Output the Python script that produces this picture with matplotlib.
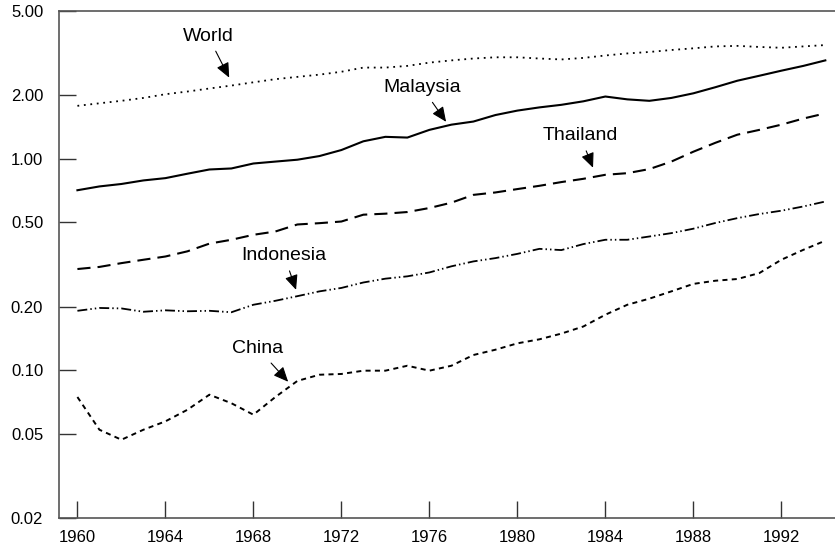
import numpy as np
import matplotlib
matplotlib.use('Agg')
import matplotlib.pyplot as plt
from matplotlib.ticker import FixedLocator, FixedFormatter, NullLocator

plt.rcParams['font.family'] = ['Liberation Sans', 'DejaVu Sans']

# Data (log scale)
years = list(range(1960, 1995))

world = [1.78, 1.83, 1.88, 1.94, 2.02, 2.08, 2.15, 2.22, 2.30, 2.38,
         2.44, 2.50, 2.58, 2.70, 2.70, 2.75, 2.85, 2.92, 2.98, 3.02,
         3.02, 2.98, 2.95, 3.00, 3.08, 3.15, 3.20, 3.27, 3.33, 3.40,
         3.42, 3.38, 3.35, 3.40, 3.45]

malaysia = [0.71, 0.74, 0.76, 0.79, 0.81, 0.85, 0.89, 0.90, 0.95, 0.97,
            0.99, 1.03, 1.10, 1.21, 1.27, 1.26, 1.37, 1.45, 1.50, 1.61,
            1.69, 1.75, 1.80, 1.87, 1.97, 1.91, 1.88, 1.94, 2.04, 2.18,
            2.34, 2.47, 2.61, 2.75, 2.92]

thailand = [0.301, 0.308, 0.321, 0.333, 0.345, 0.365, 0.397, 0.414, 0.437, 0.453,
            0.489, 0.496, 0.505, 0.544, 0.550, 0.560, 0.585, 0.620, 0.675, 0.693,
            0.719, 0.745, 0.776, 0.804, 0.840, 0.855, 0.894, 0.970, 1.08, 1.19,
            1.30, 1.37, 1.45, 1.55, 1.64]

indonesia = [0.191, 0.197, 0.196, 0.189, 0.192, 0.190, 0.191, 0.188, 0.204, 0.213,
             0.224, 0.236, 0.245, 0.260, 0.271, 0.278, 0.290, 0.310, 0.327, 0.339,
             0.355, 0.375, 0.370, 0.395, 0.414, 0.414, 0.429, 0.445, 0.467, 0.497,
             0.524, 0.548, 0.568, 0.595, 0.628]

china = [0.0747, 0.0523, 0.0469, 0.0523, 0.0573, 0.065, 0.0766, 0.0698, 0.0616, 0.0747,
         0.089, 0.0952, 0.096, 0.0995, 0.0995, 0.105, 0.0995, 0.105, 0.118, 0.125,
         0.134, 0.140, 0.149, 0.161, 0.183, 0.204, 0.218, 0.236, 0.256, 0.265,
         0.270, 0.288, 0.333, 0.371, 0.410]

y_ticks = [0.02, 0.05, 0.10, 0.20, 0.50, 1.00, 2.00, 5.00]
y_tick_labels = ['0.02', '0.05', '0.10', '0.20', '0.50', '1.00', '2.00', '5.00']
x_ticks = list(range(1960, 1995, 4))

fig = plt.figure(figsize=(8.35, 5.48), dpi=100)
ax = fig.add_axes([58.5 / 835, 1 - 518 / 548, 1 - 58.5 / 835, (518 - 11) / 548])

ax.plot(years, world, color='k', lw=1.3, linestyle=(0, (1, 2.6)))
ax.plot(years, malaysia, color='k', lw=1.5, linestyle='-')
ax.plot(years, thailand, color='k', lw=1.5, linestyle=(0, (6.3, 3.4)))
ax.plot(years, indonesia, color='k', lw=1.3,
        linestyle=(0, (5.5, 1.7, 0.8, 1.7, 0.8, 1.7)))
ax.plot(years, china, color='k', lw=1.4, linestyle=(0, (2.6, 2.2)))

ax.set_yscale('log')
ax.set_ylim(0.02, 5.0)
ax.set_xlim(1959.14, 1994.44)
ax.yaxis.set_major_locator(FixedLocator(y_ticks))
ax.yaxis.set_major_formatter(FixedFormatter(y_tick_labels))
ax.yaxis.set_minor_locator(NullLocator())
ax.set_xticks(x_ticks)
ax.set_xticklabels([str(x) for x in x_ticks])

ax.tick_params(axis='both', direction='in', length=12, width=1.0,
               labelsize=12, colors='#333333', labelcolor='black')
ax.tick_params(axis='y', pad=11)
ax.tick_params(axis='x', pad=9)

for side in ['left', 'bottom', 'top']:
    ax.spines[side].set_color('#555555')
    ax.spines[side].set_linewidth(1.2)
ax.spines['right'].set_visible(False)

arrow = dict(arrowstyle='-|>,head_length=0.45,head_width=0.2', color='k',
             lw=0.8, mutation_scale=20, shrinkA=3, shrinkB=0)
labels = [
    ('World', (1966.90, 2.42), (1965.94, 3.80)),
    ('Malaysia', (1976.76, 1.496), (1975.67, 2.17)),
    ('Thailand', (1983.44, 0.907), (1982.85, 1.285)),
    ('Indonesia', (1969.94, 0.240), (1969.40, 0.348)),
    ('China', (1969.58, 0.0882), (1968.21, 0.1264)),
]
for name, tip, pos in labels:
    ax.annotate(name, xy=tip, xytext=pos, ha='center', va='center',
                fontsize=14, arrowprops=arrow)

fig.savefig('out.png', dpi=100)
